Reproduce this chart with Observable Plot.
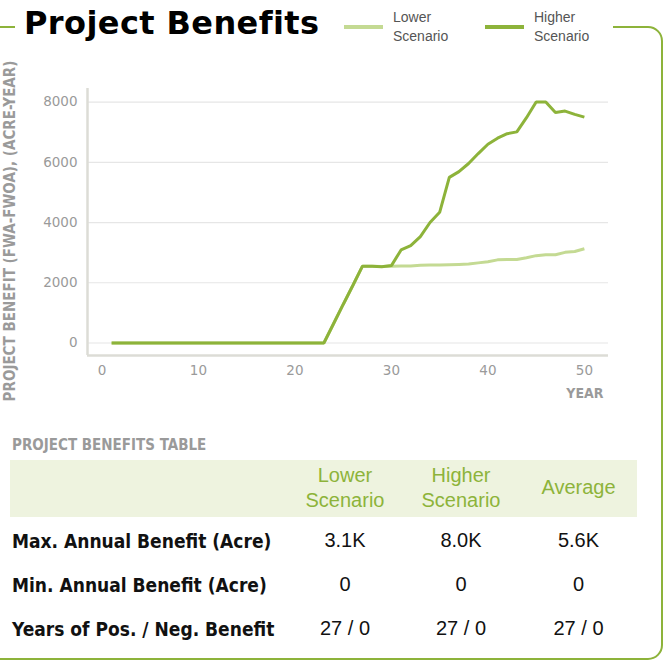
<!DOCTYPE html>
<html>
<head>
<meta charset="utf-8">
<script src="https://cdn.jsdelivr.net/npm/d3@7"></script>
<script src="https://cdn.jsdelivr.net/npm/@observablehq/plot@0.6"></script>
<style>
  html, body { margin: 0; padding: 0; background: #fff; }
  body { width: 665px; height: 660px; position: relative; overflow: hidden; font-family: "Liberation Sans", Arial, sans-serif; }
  #frame { position: absolute; left: -20px; top: 26px; width: 683px; height: 634px; border: 2.5px solid #8db33a; border-radius: 15px; box-sizing: border-box; }
  #head { position: absolute; left: 15px; top: 4px; width: 598px; height: 44px; background: #fff; }
  #title { position: absolute; left: 9px; top: 0px; font: bold 32px "DejaVu Sans", sans-serif; color: #000; white-space: nowrap; letter-spacing: 0.4px; }
  .sw { position: absolute; top: 21px; width: 39px; height: 4px; }
  .lt { position: absolute; top: 4px; font: 14px "Liberation Sans", sans-serif; color: #555; line-height: 19px; }
  #chart { position: absolute; left: 0; top: 0; }
  #tbl-title { position: absolute; left: 12px; top: 436px; font: bold 15px "DejaVu Sans Condensed", "DejaVu Sans", sans-serif; font-stretch: condensed; color: #9a9a9a; }
  #tbl { position: absolute; left: 10px; top: 460px; width: 627px; border-collapse: collapse; }
  #tbl th { background: #eef3df; color: #8db33a; font-weight: normal; font-size: 20px; font-family: "Liberation Sans", sans-serif; height: 57px; padding: 0; line-height: 25px; }
  #tbl th span { position: relative; top: -1px; }
  #tbl td { font-size: 20px; font-family: "Liberation Sans", sans-serif; color: #111; height: 44px; padding: 0; text-align: center; }
  #tbl td span { position: relative; top: 1.5px; }
  #tbl td.lab { font-weight: bold; font-size: 19px; font-family: "DejaVu Sans Condensed", "DejaVu Sans", sans-serif; font-stretch: condensed; text-align: left; padding-left: 2px; }
</style>
</head>
<body>
<div id="frame"></div>
<div id="chart"></div>
<div id="head">
  <div id="title">Project Benefits</div>
</div>
<div id="tbl-title">PROJECT BENEFITS TABLE</div>
<table id="tbl"></table>
<script>
// ---- data ----
const years = [1,2,3,4,5,6,7,8,9,10,11,12,13,14,15,16,17,18,19,20,21,22,23,24,25,26,27,28,29,30,31,32,33,34,35,36,37,38,39,40,41,42,43,44,45,46,47,48,49,50];
const lowerValues = [0,0,0,0,0,0,0,0,0,0,0,0,0,0,0,0,0,0,0,0,0,0,0,640,1280,1910,2550,2550,2540,2550,2560,2560,2580,2590,2590,2600,2610,2620,2660,2700,2760,2770,2770,2830,2900,2930,2930,3010,3040,3130];
const higherValues = [0,0,0,0,0,0,0,0,0,0,0,0,0,0,0,0,0,0,0,0,0,0,0,640,1280,1910,2550,2550,2530,2570,3090,3230,3530,4000,4340,5500,5690,5960,6290,6600,6800,6950,7010,7480,8000,8000,7650,7700,7590,7500];
const seriesNames = ["Lower Scenario", "Higher Scenario"];
const seriesColors = ["#c4da93", "#8db33a"];
const xTicks = [0, 10, 20, 30, 40, 50];
const yTicks = [0, 2000, 4000, 6000, 8000];
const yLabel = "PROJECT BENEFIT (FWA-FWOA), (ACRE-YEAR)";
const xLabel = "YEAR";
const tableColumns = ["Lower<br>Scenario", "Higher<br>Scenario", "Average"];
const rowLabels = ["Max. Annual Benefit (Acre)", "Min. Annual Benefit (Acre)", "Years of Pos. / Neg. Benefit"];
const maxBenefit = ["3.1K", "8.0K", "5.6K"];
const minBenefit = ["0", "0", "0"];
const posNegYears = ["27 / 0", "27 / 0", "27 / 0"];

// ---- build ----
const rows = [];
years.forEach((yr, i) => {
  rows.push({year: yr, value: lowerValues[i], series: seriesNames[0]});
});
years.forEach((yr, i) => {
  rows.push({year: yr, value: higherValues[i], series: seriesNames[1]});
});
const xDom = [-1.5, 52.5];
const yDom = [-415, 8450];

const chart = Plot.plot({
  width: 665,
  height: 410,
  marginTop: 88,
  marginBottom: 55,
  marginLeft: 87,
  marginRight: 57,
  style: {background: "transparent", fontFamily: "'DejaVu Sans', sans-serif", fontSize: "13.5px", color: "#9a9a9a"},
  x: {domain: xDom, label: null},
  y: {domain: yDom, label: null},
  color: {domain: seriesNames, range: seriesColors},
  marks: [
    Plot.gridY(yTicks, {stroke: "#e6e6e6", strokeOpacity: 1, strokeWidth: 1.2}),
    Plot.ruleX([xDom[0]], {stroke: "#dcdcd6", strokeWidth: 2.5}),
    Plot.ruleY([yDom[0]], {stroke: "#dcdcd6", strokeWidth: 2.5}),
    Plot.axisX(xTicks, {tickSize: 0, tickPadding: 10, fill: "#9a9a9a", fontSize: 13.5, tickFormat: d => String(d)}),
    Plot.axisY(yTicks, {tickSize: 0, tickPadding: 10, fill: "#9a9a9a", fontSize: 13.5, tickFormat: d => String(d)}),
    Plot.line(rows, {x: "year", y: "value", z: "series", stroke: "series", strokeWidth: 3, strokeLinejoin: "miter", strokeLinecap: "butt"}),
    Plot.text([yLabel], {frameAnchor: "left", dx: -77, dy: 9, rotate: -90, textAnchor: "middle", fill: "#9a9a9a", fontWeight: "bold", fontSize: 15, fontFamily: "'DejaVu Sans Condensed', 'DejaVu Sans', sans-serif", fontStretch: "condensed"}),
    Plot.text([xLabel], {frameAnchor: "bottom-right", dx: -5, dy: 42, textAnchor: "end", fill: "#9a9a9a", fontWeight: "bold", fontSize: 14, fontFamily: "'DejaVu Sans Condensed', 'DejaVu Sans', sans-serif"})
  ]
});
document.getElementById("chart").appendChild(chart);

// legend
const head = document.getElementById("head");
const legendX = [329, 470];
seriesNames.forEach((name, i) => {
  const sw = document.createElement("div");
  sw.className = "sw";
  sw.style.left = legendX[i] + "px";
  sw.style.background = seriesColors[i];
  head.appendChild(sw);
  const t = document.createElement("div");
  t.className = "lt";
  t.style.left = (legendX[i] + 49) + "px";
  t.innerHTML = name.replace(" ", "<br>");
  head.appendChild(t);
});

// table
const tbl = document.getElementById("tbl");
let html = "<colgroup><col style='width:278px'><col style='width:114px'><col style='width:118px'><col style='width:117px'></colgroup>";
html += "<tr><th></th>" + tableColumns.map(c => "<th><span>" + c + "</span></th>").join("") + "</tr>";
const vals = [maxBenefit, minBenefit, posNegYears];
rowLabels.forEach((lab, r) => {
  html += "<tr><td class='lab'><span>" + lab + "</span></td>" + vals[r].map(v => "<td><span>" + v + "</span></td>").join("") + "</tr>";
});
tbl.innerHTML = html;
</script>
</body>
</html>
